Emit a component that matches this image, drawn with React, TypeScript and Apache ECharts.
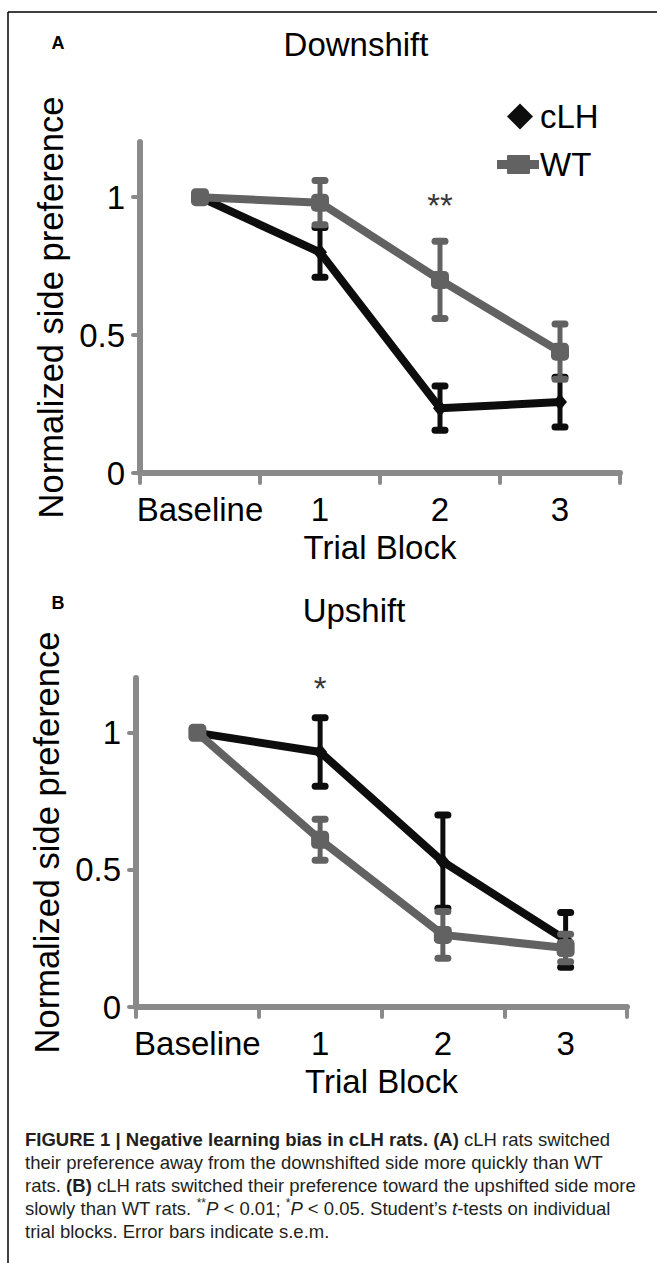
import { useEffect, useRef } from 'react';
import * as echarts from 'echarts';

const categories = ['Baseline', '1', '2', '3'];
const yTickValues = [0, 0.5, 1];
const seriesNames = ['cLH', 'WT'];
const panelTitles = ['Downshift', 'Upshift'];
const panelLetters = ['A', 'B'];

// Panel A: Downshift
const downCLH = [1.0, 0.8, 0.235, 0.257];
const downCLHErr = [0, 0.09, 0.08, 0.09];
const downWT = [1.0, 0.98, 0.7, 0.44];
const downWTErr = [0, 0.08, 0.14, 0.1];
// Panel B: Upshift
const upCLH = [1.0, 0.93, 0.53, 0.245];
const upCLHErr = [0, 0.125, 0.17, 0.1];
const upWT = [1.0, 0.61, 0.263, 0.215];
const upWTErr = [0, 0.075, 0.085, 0.05];

// significance markers
const sigPanels = [0, 1];
const sigCats = [2, 1];
const sigValues = [0.97, 1.16];
const sigTexts = ['**', '*'];

const captionLines = [
  '{b|FIGURE 1 | Negative learning bias in cLH rats. (A)} cLH rats switched',
  'their preference away from the downshifted side more quickly than WT',
  'rats. {b|(B)} cLH rats switched their preference toward the upshifted side more',
  'slowly than WT rats. {sup|**}{i|P} < 0.01; {sup|*}{i|P} < 0.05. Student\u2019s {i|t}-tests on individual',
  'trial blocks. Error bars indicate s.e.m.',
];

const FONT = "'Liberation Sans', Arial, sans-serif";
const BLACK = '#0d0d0d';
const GRAY = '#626262';
const AXIS = '#8a8a8a';
const CAP_FS = 18.5;
const CAP_LH = 23;

const grids = [
  { left: 140, top: 142, width: 480, height: 331 },
  { left: 136, top: 678, width: 491, height: 329 },
];
const titlePos = [
  [356, 44],
  [354, 610],
];
const letterPos = [
  [58, 43],
  [58, 603],
];

function errorSeries(vals: number[], errs: number[], color: string, idx: number, z: number) {
  const data = vals
    .map((v, i) => [i, v - errs[i], v + errs[i]])
    .filter((_, i) => errs[i] > 0);
  return {
    type: 'custom',
    xAxisIndex: idx,
    yAxisIndex: idx,
    data,
    encode: { x: 0, y: [1, 2] },
    silent: true,
    z,
    renderItem: (_params: any, api: any) => {
      const hi = api.coord([api.value(0), api.value(2)]);
      const lo = api.coord([api.value(0), api.value(1)]);
      const hw = 5;
      const s = { stroke: color, lineWidth: 5, lineCap: 'round' };
      const c = { stroke: color, lineWidth: 7, lineCap: 'round' };
      return {
        type: 'group',
        children: [
          { type: 'line', shape: { x1: hi[0], y1: hi[1], x2: lo[0], y2: lo[1] }, style: s },
          { type: 'line', shape: { x1: hi[0] - hw, y1: hi[1], x2: hi[0] + hw, y2: hi[1] }, style: c },
          { type: 'line', shape: { x1: lo[0] - hw, y1: lo[1], x2: lo[0] + hw, y2: lo[1] }, style: c },
        ],
      };
    },
  };
}

function lineSeries(name: string, vals: number[], color: string, idx: number, symbol: string, size: any, z: number) {
  return {
    type: 'line',
    name,
    xAxisIndex: idx,
    yAxisIndex: idx,
    data: vals,
    symbol,
    symbolSize: size,
    showSymbol: true,
    itemStyle: { color, borderWidth: 0 },
    lineStyle: { color, width: 8, join: 'round', cap: 'round' },
    silent: true,
    z,
  };
}

export default function App() {
  const ref = useRef<HTMLDivElement>(null);
  useEffect(() => {
    if (!ref.current) return;
    const chart = echarts.init(ref.current, undefined, { renderer: 'svg' });

    const panels = [
      { cl: downCLH, clE: downCLHErr, wt: downWT, wtE: downWTErr },
      { cl: upCLH, clE: upCLHErr, wt: upWT, wtE: upWTErr },
    ];

    const xAxis = grids.map((_, i) => ({
      type: 'category',
      gridIndex: i,
      data: categories,
      boundaryGap: true,
      axisLine: { show: true, lineStyle: { color: AXIS, width: 6, cap: 'round' } },
      axisTick: { show: true, length: 10, interval: 0, lineStyle: { color: AXIS, width: 4, cap: 'round' } },
      axisLabel: { fontSize: 33, color: '#000', margin: 20, fontFamily: FONT, interval: 0, hideOverlap: false },
      name: 'Trial Block',
      nameLocation: 'middle',
      nameGap: 58,
      nameTextStyle: { fontSize: 33, color: '#000', fontFamily: FONT },
      splitLine: { show: false },
    }));

    const yAxis = grids.map((_, i) => ({
      type: 'value',
      gridIndex: i,
      min: 0,
      max: 1.2,
      axisLine: { show: true, lineStyle: { color: AXIS, width: 6, cap: 'round' } },
      axisTick: { show: true, length: 7, customValues: yTickValues, lineStyle: { color: AXIS, width: 4, cap: 'round' } },
      axisLabel: { fontSize: 33, color: '#000', margin: 15, fontFamily: FONT, customValues: yTickValues },
      splitLine: { show: false },
      name: 'Normalized side preference',
      nameLocation: 'middle',
      nameGap: 70,
      nameTextStyle: { fontSize: 34.5, color: '#000', fontFamily: FONT },
    }));

    const series: any[] = [];
    panels.forEach((p, i) => {
      series.push(errorSeries(p.cl, p.clE, BLACK, i, 2));
      series.push(lineSeries(seriesNames[0], p.cl, BLACK, i, 'diamond', [14, 17], 3));
      series.push(errorSeries(p.wt, p.wtE, GRAY, i, 4));
      series.push(lineSeries(seriesNames[1], p.wt, GRAY, i, 'roundRect', 18, 5));
    });
    sigPanels.forEach((pIdx, k) => {
      series.push({
        type: 'scatter',
        xAxisIndex: pIdx,
        yAxisIndex: pIdx,
        symbolSize: 0,
        silent: true,
        data: [[sigCats[k], sigValues[k]]],
        label: {
          show: true,
          position: 'inside',
          formatter: sigTexts[k],
          fontSize: 33,
          color: '#000',
          fontFamily: FONT,
        },
        z: 6,
      });
    });

    const graphic: any[] = [
      { type: 'line', shape: { x1: 8, y1: 12, x2: 657, y2: 12 }, style: { stroke: '#000', lineWidth: 1.5 } },
      { type: 'line', shape: { x1: 8, y1: 12, x2: 8, y2: 1263 }, style: { stroke: '#000', lineWidth: 1.5 } },
    ];
    panelTitles.forEach((t, i) => {
      graphic.push({
        type: 'text',
        x: titlePos[i][0],
        y: titlePos[i][1],
        style: { text: t, fontSize: 33, fill: '#000', fontFamily: FONT, align: 'center', verticalAlign: 'middle' },
      });
      graphic.push({
        type: 'text',
        x: letterPos[i][0],
        y: letterPos[i][1],
        style: { text: panelLetters[i], fontSize: 18, fontWeight: 'bold', fill: '#000', fontFamily: FONT, align: 'center', verticalAlign: 'middle' },
      });
    });
    graphic.push({
      type: 'text',
      x: 25,
      y: 1128,
      style: {
        text: captionLines.join('\n'),
        fontSize: CAP_FS,
        lineHeight: CAP_LH,
        fill: '#231f20',
        fontFamily: FONT,
        rich: {
          b: { fontWeight: 'bold', fontSize: CAP_FS, lineHeight: CAP_LH, fontFamily: FONT, fill: '#231f20' },
          i: { fontStyle: 'italic', fontSize: CAP_FS, lineHeight: CAP_LH, fontFamily: FONT, fill: '#231f20' },
          sup: { fontSize: 12, lineHeight: 16, verticalAlign: 'top', fontFamily: FONT, fill: '#231f20' },
        },
      },
    });

    const legendText = { fontSize: 33, color: '#000', fontFamily: FONT, padding: [0, 0, 0, 2] };
    chart.setOption({
      animation: false,
      backgroundColor: '#ffffff',
      textStyle: { fontFamily: FONT },
      grid: grids,
      xAxis,
      yAxis,
      legend: [
        {
          left: 502,
          top: 95,
          itemWidth: 26,
          itemHeight: 26,
          selectedMode: false,
          textStyle: legendText,
          data: [{ name: 'cLH', icon: 'diamond', itemStyle: { color: BLACK } }],
        },
        {
          left: 492,
          top: 143,
          itemWidth: 42,
          itemHeight: 19,
          selectedMode: false,
          textStyle: { ...legendText, padding: [0, 0, 0, -4] },
          data: [
            {
              name: 'WT',
              icon: 'path://M0,5 H10 V1 Q10,0 11,0 H32 Q33,0 33,1 V5 H42 V14 H33 V18 Q33,19 32,19 H11 Q10,19 10,18 V14 H0 Z',
              itemStyle: { color: GRAY },
            },
          ],
        },
      ],
      series,
      graphic,
    });
    return () => chart.dispose();
  }, []);
  return (
    <div
      ref={ref}
      style={{ position: 'absolute', left: 0, top: 0, width: 657, height: 1263, background: '#fff' }}
    />
  );
}
